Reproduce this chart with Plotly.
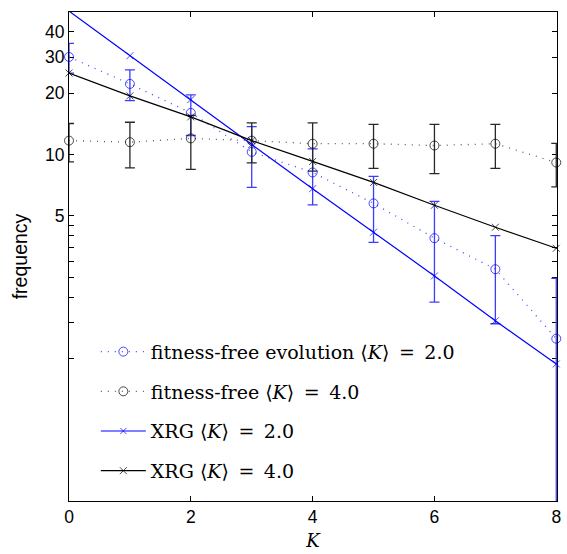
import plotly.graph_objects as go
import math

K = [0, 1, 2, 3, 4, 5, 6, 7, 8]

ff2_vals = [30.1, 22.2, 16.0, 10.3, 8.17, 5.76, 3.89, 2.74, 1.25]
ff2_err = [5.0, 3.8, 3.6, 3.4, 2.5, 2.05, 2.0, 1.26, 1.22]

ff4_vals = [11.7, 11.5, 12.0, 11.7, 11.3, 11.3, 11.07, 11.3, 9.14]
ff4_err = [2.5, 2.9, 3.55, 2.6, 3.0, 2.75, 3.0, 2.75, 2.2]

xrg2_vals = [50.5, 30.5, 18.6, 11.2, 6.8, 4.16, 2.54, 1.53, 0.94]
xrg4_vals = [25.1, 19.4, 15.3, 11.7, 9.25, 7.3, 5.64, 4.4, 3.47]

names = [
    "fitness-free evolution \u27e8<i>K</i>\u27e9\u2002=\u20022.0",
    "fitness-free \u27e8<i>K</i>\u27e9\u2002=\u20024.0",
    "XRG \u27e8<i>K</i>\u27e9\u2002=\u20022.0",
    "XRG \u27e8<i>K</i>\u27e9\u2002=\u20024.0",
]

y_ticks = [1, 1.5, 2, 2.5, 3, 3.5, 4, 4.5, 5, 10, 20, 30, 40]
y_labels = ["", "", "", "", "", "", "", "", "5", "10", "20", "30", "40"]
x_ticks = [0, 2, 4, 6, 8]

BLUE = "rgb(0,0,255)"
BLUE_ERR = "rgb(60,60,255)"
BLACK = "rgb(0,0,0)"
BLACK_ERR = "rgb(40,40,40)"

SANS = "Liberation Sans, Arial, sans-serif"
SERIF = "DejaVu Serif, Liberation Serif, serif"

series = [
    (ff2_vals, ff2_err, BLUE, BLUE_ERR, "circle-open", 9, "1px,6px", "rgb(70,70,255)"),
    (ff4_vals, ff4_err, BLACK, BLACK_ERR, "circle-open", 9, "1px,6px", "rgb(90,90,90)"),
    (xrg2_vals, None, BLUE, BLUE_ERR, "x-thin-open", 7, "solid", BLUE),
    (xrg4_vals, None, BLACK, BLACK_ERR, "x-thin-open", 7, "solid", BLACK),
]

fig = go.Figure()

# error bars (clipped to plot area)
for vals, err, col, ecol, sym, sz, dash, lcol in series:
    if err is None:
        continue
    fig.add_trace(go.Scatter(
        x=K, y=vals, mode="markers",
        marker=dict(size=1, opacity=0),
        error_y=dict(type="data", array=err, visible=True, color=ecol,
                     thickness=1.3, width=5),
        showlegend=False, hoverinfo="skip", cliponaxis=True,
    ))

# lines + markers
for i, (vals, err, col, ecol, sym, sz, dash, lcol) in enumerate(series):
    sizes = [sz] * len(K)
    if vals[0] > 50:
        sizes[0] = 0
    fig.add_trace(go.Scatter(
        x=K, y=vals, mode="lines+markers", name=names[i],
        line=dict(color=lcol, width=1.2 if dash == "solid" else 1.3, dash=dash),
        marker=dict(symbol=sym, size=sizes, color=col, line=dict(color=col, width=1)),
        cliponaxis=False, legendgroup=str(i),
    ))

fig.update_layout(
    width=567, height=554,
    margin=dict(l=69, r=6, t=12, b=51),
    paper_bgcolor="white", plot_bgcolor="white",
    showlegend=True,
    legend=dict(
        x=0.055, y=0.023, xanchor="left", yanchor="bottom",
        bgcolor="rgba(0,0,0,0)", borderwidth=0,
        font=dict(family=SERIF, size=19, color="black"),
        tracegroupgap=12, itemwidth=45,
    ),
    xaxis=dict(
        range=[0, 8.012], tickvals=x_ticks, ticktext=[str(v) for v in x_ticks],
        ticks="inside", ticklen=5, tickcolor="black", mirror="ticks",
        showline=True, linecolor="black", linewidth=1, showgrid=False, zeroline=False,
        layer="below traces",
        tickfont=dict(family=SANS, size=17.5, color="black"),
        title=dict(text="<i>K</i>", font=dict(family=SERIF, size=18, color="black"), standoff=8),
    ),
    yaxis=dict(
        type="log", range=[math.log10(0.2), math.log10(50)],
        tickvals=y_ticks, ticktext=y_labels,
        ticks="inside", ticklen=5, tickcolor="black", mirror="ticks",
        showline=True, linecolor="black", linewidth=1, showgrid=False, zeroline=False,
        layer="below traces",
        tickfont=dict(family=SANS, size=17.5, color="black"),
        title=dict(text="frequency", font=dict(family=SANS, size=19.5, color="black"), standoff=12),
    ),
)

fig.write_html("out.html")
